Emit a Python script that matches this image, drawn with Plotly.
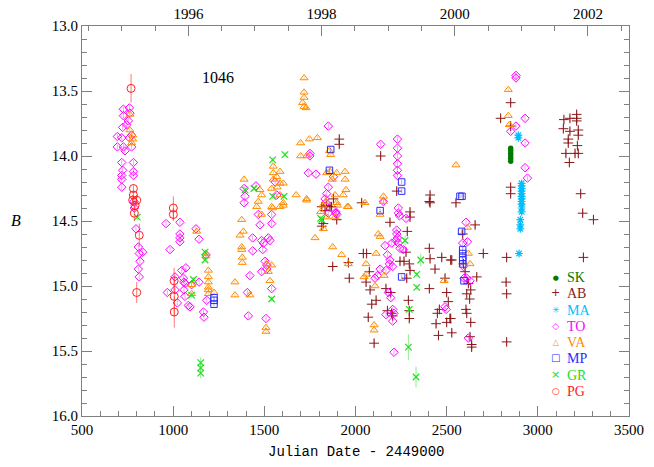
import plotly.graph_objects as go

# ---------------- data (JD - 2449000, B magnitude) ----------------
sk_jd = [2851, 2851, 2851, 2851, 2851, 2851]
sk_mag = [13.94, 13.96, 13.98, 14.00, 14.02, 14.04]

ab_jd = [1815, 1842, 1869, 1824, 1897, 2034, 2043, 2061, 2189, 2284, 2299, 2299, 2405, 2551, 2405,
         2409, 2473, 2528, 2656, 2701, 2829, 2826, 2829, 1961, 1966, 1875, 2076, 2058, 2080, 2113,
         2089, 2070, 2102, 2167, 2175, 2198, 2193, 2204, 2244, 2266, 2277, 2295, 2281, 2299, 2290,
         2295, 2295, 2405, 2436, 2491, 2500, 2460, 2449, 2442, 2500, 2522, 2528, 2455, 2588, 2592,
         2601, 2619, 2610, 2632, 2606, 2610, 2628, 2637, 2637, 2665, 2829, 3250, 3246, 3305, 3235,
         1911, 1911, 2138, 1879, 1860, 2226, 2409, 2409, 2851, 2796, 2851, 2851, 2851, 3143, 3176,
         3213, 3213, 3213, 3140, 3176, 3222, 3222, 3167, 3167, 3217, 3154, 3204, 3222, 3173, 1815,
         1833, 2522, 2509, 2518, 2626, 2632]
ab_mag = [14.39, 14.38, 14.39, 14.52, 14.49, 14.36, 14.75, 14.75, 14.51, 14.58, 14.43, 14.47, 14.35, 14.36, 14.71,
          14.79, 14.78, 14.80, 14.53, 14.75, 14.78, 14.97, 15.06, 14.82, 14.94, 14.85, 14.89, 14.97, 15.03, 15.11,
          15.14, 15.24, 15.44, 15.02, 15.19, 15.21, 15.05, 15.23, 14.81, 14.81, 14.74, 14.83, 14.94, 14.88, 15.11,
          15.19, 15.25, 15.02, 14.87, 14.94, 15.05, 15.18, 15.21, 15.29, 15.28, 15.25, 15.36, 15.38, 14.60, 14.83,
          14.89, 14.98, 15.06, 15.03, 15.18, 15.21, 15.39, 15.45, 15.47, 14.93, 15.43, 14.78, 14.44, 14.49, 14.29,
          13.87, 13.91, 14.00, 14.33, 14.39, 14.27, 14.30, 14.36, 13.59, 13.71, 13.77, 14.24, 14.29, 13.72, 13.71,
          13.68, 13.71, 13.73, 13.79, 13.81, 13.80, 13.84, 13.87, 13.90, 13.92, 13.98, 13.98, 13.98, 14.05, 14.54,
          14.42, 14.80, 15.12, 15.25, 15.10, 15.28]

ma_jd = [2893, 2893, 2911, 2911, 2911, 2911, 2911, 2911, 2911, 2911, 2911, 2911, 2911, 2904, 2904, 2904, 2897]
ma_mag = [13.84, 13.86, 14.21, 14.23, 14.25, 14.27, 14.29, 14.31, 14.33, 14.35, 14.37, 14.40, 14.43, 14.49,
          14.53, 14.56, 14.75]

to_jd = [727, 727, 760, 763, 723, 745, 754, 694, 718, 760, 772, 694, 727, 736, 772, 718, 723, 718, 718, 718,
         782, 782, 782, 785, 787, 796, 809, 814, 818, 809, 814, 833, 961, 983, 1037, 1037, 1037, 1037, 1010,
         1010, 1023, 968, 1047, 1070, 1056, 1065, 1059, 1065, 1092, 1083, 1125, 1142, 1142, 1166, 1169, 1184,
         1180, 1101, 1059, 1389, 1436, 1436, 1421, 1407, 1412, 1467, 1476, 1485, 1495, 1491, 1504, 1513, 1513,
         1485, 1522, 1531, 1540, 1540, 1540, 1509, 1389, 1394, 1454, 1559, 1568, 1750, 1750, 1741, 1783, 1851,
         1851, 1842, 1833, 1893, 1879, 1838, 1851, 1893, 1897, 2138, 2230, 2230, 2230, 2230, 2230, 2230, 2153,
         2235, 2235, 2241, 2277, 2226, 2226, 2230, 2222, 2235, 2162, 2199, 2244, 2262, 2175, 2189, 2204, 2135,
         2167, 2186, 2107, 2120, 2180, 2193, 2204, 2211, 2167, 2204, 2211, 2491, 2497, 2606, 2614, 2588, 2592,
         2610, 2595, 2628, 2619, 2880, 2880, 2930, 2880, 2851, 2930, 2930, 2943]
to_mag = [13.64, 13.69, 13.63, 13.67, 13.78, 13.76, 13.73, 13.85, 13.86, 13.86, 13.84, 13.93, 13.93, 13.96, 13.93,
          14.05, 14.11, 14.15, 14.18, 14.24, 14.05, 14.12, 14.15, 14.35, 14.40, 14.56, 14.70, 14.75, 14.81, 14.87,
          14.93, 14.74, 14.52, 14.72, 14.51, 14.60, 14.63, 14.66, 14.93, 15.03, 15.13, 15.05, 14.88, 14.86, 14.94,
          14.98, 15.03, 15.08, 15.16, 15.15, 14.56, 14.64, 14.97, 15.20, 15.24, 15.11, 14.76, 14.99, 14.97, 14.36,
          14.63, 14.73, 14.92, 15.05, 15.23, 14.45, 14.53, 14.65, 14.67, 14.72, 14.81, 14.84, 14.87, 14.89, 14.63,
          14.65, 14.45, 14.52, 15.02, 15.25, 14.25, 14.31, 14.23, 14.20, 14.30, 13.98, 14.00, 14.13, 14.14, 13.77,
          14.24, 14.29, 14.33, 14.43, 14.16, 14.36, 14.44, 14.44, 14.45, 13.91, 13.87, 13.94, 14.00, 14.06, 14.11,
          14.15, 14.35, 14.40, 14.44, 14.46, 14.48, 14.57, 14.60, 14.63, 14.65, 14.67, 14.69, 14.67, 14.71, 14.72,
          14.76, 14.80, 14.85, 14.87, 14.88, 14.83, 14.94, 14.92, 15.05, 15.09, 15.18, 15.21, 15.22, 15.27, 15.51,
          15.16, 15.18, 14.51, 14.66, 14.67, 14.85, 14.94, 14.94, 14.96, 15.40, 13.38, 13.40, 13.71, 13.77, 13.81,
          13.90, 14.09, 14.17]

va_jd = [763, 763, 778, 778, 772, 1129, 1101, 1101, 1180, 1180, 1193, 1193, 1193, 1193, 1193, 1193, 1224,
         1376, 1385, 1367, 1376, 1376, 1379, 1379, 1339, 1339, 1421, 1485, 1513, 1522, 1531, 1540, 1509, 1509,
         1546, 1586, 1604, 1732, 1778, 1389, 1476, 1485, 1467, 1458, 1540, 1549, 1549, 1568, 1549, 1586, 1586,
         1571, 1586, 1604, 1604, 1540, 1718, 1718, 1718, 1710, 1718, 1729, 1699, 1747, 1791, 1699, 1732, 1674,
         1732, 1857, 1864, 1842, 1860, 1897, 1943, 1943, 1873, 1948, 1888, 1933, 1897, 1961, 1820, 1838, 1809,
         1842, 1888, 2052, 2135, 2153, 2153, 2551, 2838, 2838, 2844, 1824, 1875, 1924, 1961, 2047, 2058, 2061,
         2107, 2113, 2125, 2135, 2102, 2102, 2157, 2486, 2614, 2619, 2628, 1901, 1955]
va_mag = [13.68, 13.80, 13.84, 13.87, 13.90, 14.58, 15.06, 14.99, 14.75, 14.77, 14.88, 14.93, 14.97, 15.01, 15.03,
          15.06, 15.05, 14.49, 14.58, 14.61, 14.70, 14.72, 14.78, 14.82, 14.97, 15.07, 15.07, 14.45, 14.83, 14.89,
          14.96, 14.84, 15.32, 15.35, 14.40, 14.39, 14.38, 14.34, 14.63, 14.18, 14.26, 14.30, 14.35, 14.39, 14.39,
          14.08, 14.13, 14.16, 14.18, 14.12, 14.21, 14.24, 14.30, 14.36, 14.21, 14.25, 13.40, 13.51, 13.55, 13.59,
          13.62, 13.63, 13.90, 13.87, 13.86, 14.00, 14.00, 14.30, 14.33, 13.96, 13.99, 14.13, 14.12, 14.13, 14.12,
          14.18, 14.18, 14.26, 14.30, 14.30, 14.36, 14.39, 14.38, 14.35, 14.43, 14.47, 14.47, 14.36, 14.45, 14.31,
          14.35, 14.07, 13.49, 13.69, 13.76, 14.56, 14.70, 14.76, 14.83, 14.93, 14.83, 14.91, 15.00, 14.75, 14.60,
          14.62, 15.30, 15.34, 14.92, 14.96, 14.55, 14.75, 14.83, 14.38, 14.39]

mp_jd = [1224, 1224, 1224, 1864, 1857, 2253, 2253, 2135, 2573, 2584, 2253, 2582, 2588, 2588, 2588, 2588, 2588, 2595]
mp_mag = [15.09, 15.11, 15.14, 13.95, 14.11, 14.20, 14.27, 14.42, 14.31, 14.31, 14.93, 14.58, 14.72, 14.75,
          14.78, 14.80, 14.83, 14.96]

gr_jd = [803, 1111, 1101, 1175, 1175, 1151, 1151, 1151, 1540, 1815, 1546, 1613, 1546, 1608, 1443, 1394, 1809,
         2272, 2358, 2336, 2336, 2295, 2290, 2332]
gr_mag = [14.47, 14.95, 15.07, 14.74, 14.80, 15.59, 15.63, 15.67, 15.10, 14.49, 14.03, 13.99, 14.31, 14.31,
          14.25, 14.26, 14.48, 14.65, 14.80, 14.91, 15.01, 15.18, 15.47, 15.70]
gr_err = [0.02, 0.02, 0.02, 0.02, 0.02, 0.04, 0.04, 0.04, 0.02, 0.02, 0.02, 0.02, 0.02, 0.02, 0.02, 0.02, 0.02,
          0.04, 0.05, 0.02, 0.02, 0.02, 0.10, 0.08]

pg_jd = [769, 782, 782, 778, 800, 791, 787, 814, 800, 1001, 1001, 1005, 1006, 1006]
pg_mag = [13.48, 14.25, 14.30, 14.34, 14.34, 14.38, 14.44, 14.61, 15.05, 14.40, 14.45, 14.96, 15.08, 15.20]
pg_err = [0.11, 0.03, 0.03, 0.04, 0.04, 0.04, 0.06, 0.09, 0.08, 0.09, 0.05, 0.10, 0.15, 0.12]

x_ticks = [500, 1000, 1500, 2000, 2500, 3000, 3500]
year_ticks = [1996, 1998, 2000, 2002]
legend_names = ["SK", "AB", "MA", "TO", "VA", "MP", "GR", "PG"]

# --------------------------------------------------------------------
fig = go.Figure()


def add(jd, mag, err, symbol, color, size, lw, ecolor):
    fig.add_trace(go.Scatter(
        x=jd, y=mag, mode="markers", showlegend=False,
        marker=dict(symbol=symbol, size=size, color=color, line=dict(color=color, width=lw)),
        error_y=dict(type="data", array=err, visible=True, color=ecolor, thickness=1, width=0),
    ))


AB_C, MA_C, TO_C, VA_C, MP_C, GR_C, PG_C, SK_C = (
    "#8b1a1a", "#00bfff", "#ff00ff", "#ff8c00", "#2a2aff", "#22dd22", "#ff2020", "#007a00")

add(ab_jd, ab_mag, [0.03] * len(ab_jd), "cross-thin-open", AB_C, 7, 1.0, "rgba(139,26,26,0.4)")
add(to_jd, to_mag, [0.02] * len(to_jd), "diamond-open", TO_C, 6.5, 1.0, "rgba(255,0,255,0.4)")
add(va_jd, va_mag, [0.015] * len(va_jd), "triangle-up-open", VA_C, 7, 1.0, "rgba(255,140,0,0.4)")
add(mp_jd, mp_mag, [0.015] * len(mp_jd), "square-open", MP_C, 6.5, 1.0, "rgba(42,42,255,0.4)")
add(gr_jd, gr_mag, gr_err, "x-thin-open", GR_C, 6.5, 1.2, "rgba(34,221,34,0.5)")
add(pg_jd, pg_mag, pg_err, "circle-open", PG_C, 8, 1.0, "rgba(255,32,32,0.6)")
add(ma_jd, ma_mag, [0.01] * len(ma_jd), "asterisk-open", MA_C, 6.5, 1.2, "rgba(0,191,255,0.5)")
add(sk_jd, sk_mag, [0.005] * len(sk_jd), "circle", SK_C, 5.5, 0, "rgba(0,122,0,0.5)")

AX = "#808080"
TICKFONT = dict(family="Liberation Serif, DejaVu Serif, serif", size=15, color="black")

# JD-2449000 -> calendar year (J2000 = JD 2451544.5)
yr0 = 2000 + (500 - 2544.5) / 365.25
yr1 = 2000 + (3500 - 2544.5) / 365.25

fig.update_layout(
    width=654, height=467,
    margin=dict(l=82, r=25, t=26, b=51, autoexpand=False),
    paper_bgcolor="white", plot_bgcolor="white",
    xaxis=dict(range=[500, 3500], tickvals=x_ticks, ticktext=[str(v) for v in x_ticks], automargin=False,
               ticks="inside", ticklen=10, tickcolor=AX, showline=True, linecolor=AX, linewidth=1,
               mirror=False, showgrid=False, zeroline=False, tickfont=TICKFONT,
               minor=dict(dtick=100, ticks="inside", ticklen=5, tickcolor=AX, showgrid=False)),
    xaxis2=dict(overlaying="x", side="top", range=[yr0, yr1], tickvals=year_ticks, automargin=False,
                ticktext=[str(v) for v in year_ticks],
                ticks="inside", ticklen=10, tickcolor=AX, showline=True, linecolor=AX, linewidth=1,
                showgrid=False, zeroline=False, tickfont=TICKFONT,
                minor=dict(tick0=1996, dtick=0.5, ticks="inside", ticklen=5, tickcolor=AX, showgrid=False)),
    yaxis=dict(range=[16.0, 13.0], tick0=13.0, dtick=0.5, tickformat=".1f", automargin=False,
               ticks="inside", ticklen=10, tickcolor=AX, showline=True, linecolor=AX, linewidth=1,
               mirror="ticks", showgrid=False, zeroline=False, tickfont=TICKFONT,
               minor=dict(dtick=0.1, ticks="inside", ticklen=5, tickcolor=AX, showgrid=False)),
    showlegend=False,
)

# invisible helper trace so the top (year) axis is drawn
fig.add_trace(go.Scatter(x=[yr0, yr1], y=[13.0, 13.0], xaxis="x2", mode="markers",
                         marker=dict(opacity=0), hoverinfo="skip", showlegend=False))

# axis titles
fig.add_annotation(text="Julian Date - 2449000", x=0.5, y=-(452 - 416) / 390, xref="paper", yref="paper",
                   showarrow=False, xanchor="center", yanchor="middle",
                   font=dict(family="Liberation Mono, DejaVu Sans Mono, monospace", size=14, color="black"))
fig.add_annotation(text="<i>B</i>", x=-(82 - 16) / 547, y=(416 - 220) / 390, xref="paper", yref="paper",
                   showarrow=False, xanchor="center", yanchor="middle",
                   font=dict(family="Liberation Serif, serif", size=16, color="black"))

# object label
fig.add_annotation(text="1046", x=(200 - 82) / 547, y=(416 - 67) / 390, xref="paper", yref="paper",
                   showarrow=False, font=dict(family="Liberation Serif, serif", size=16, color="black"))

# legend: a column of symbols and a column of coloured labels (line pitch 12.5*1.3 = 16.3 px)
legend_syms = [("●", SK_C, 7), ("+", AB_C, 11), ("✳", MA_C, 9), ("◇", TO_C, 9),
               ("△", VA_C, 8), ("□", MP_C, 10), ("×", GR_C, 11), ("○", PG_C, 9)]
sym_lines = "<br>".join(f"<span style='color:{c};font-size:{fs}px'>{s}</span>" for s, c, fs in legend_syms)
lab_lines = "<br>".join(f"<span style='color:{c};font-size:14px'>{n}</span>"
                        for n, (s, c, fs) in zip(legend_names, legend_syms))
yc = (416 - (280 + 389) / 2) / 390
fig.add_annotation(text=sym_lines, x=(555 - 82) / 547, y=yc, xref="paper", yref="paper", showarrow=False,
                   xanchor="center", yanchor="middle", align="center", borderpad=0,
                   font=dict(family="DejaVu Sans, sans-serif", size=12.5))
fig.add_annotation(text=lab_lines, x=(566 - 82) / 547, y=yc, xref="paper", yref="paper", showarrow=False,
                   xanchor="left", yanchor="middle", align="left", borderpad=0,
                   font=dict(family="Liberation Serif, serif", size=12.5))

# remove the default 8px page margin so the 654x467 figure fills the window exactly
fig.write_html("out.html", config={"displayModeBar": False},
               post_script="document.body.style.margin='0px';")
